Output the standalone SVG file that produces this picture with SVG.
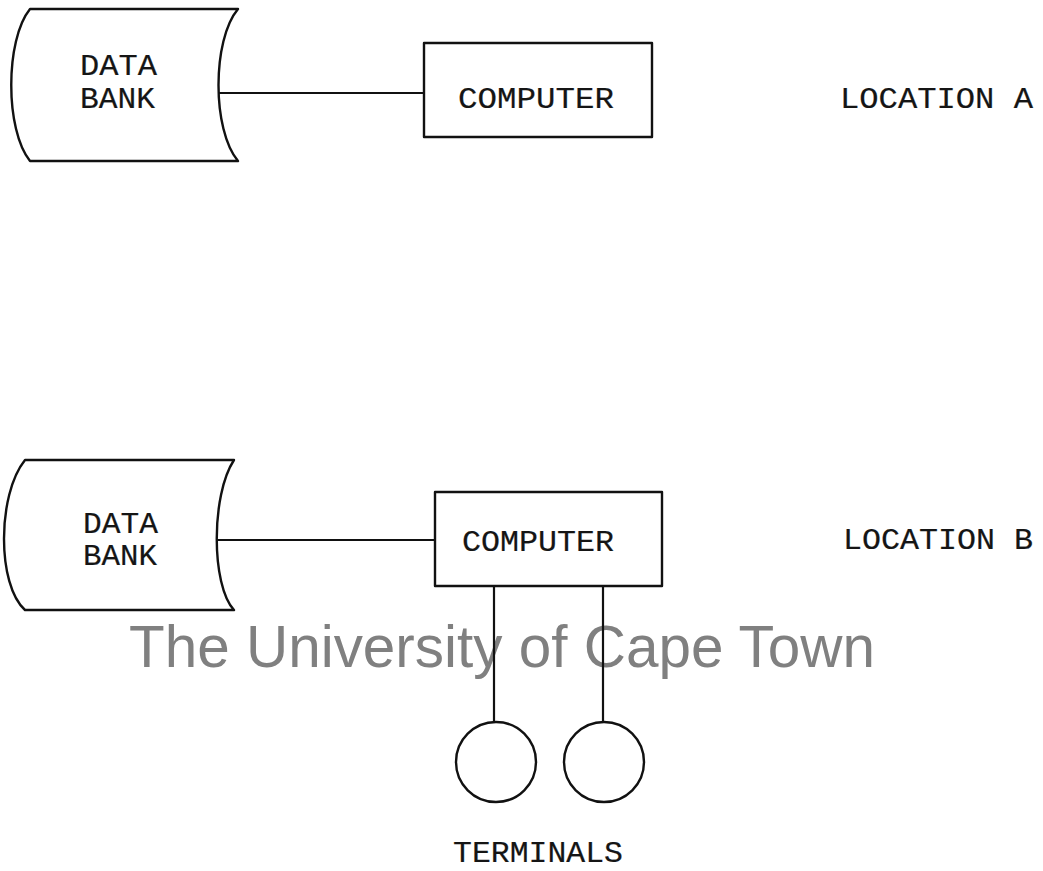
<svg xmlns="http://www.w3.org/2000/svg" width="1043" height="871" viewBox="0 0 1043 871">
<style>
.shape{fill:none;stroke:#111;stroke-width:2.4;stroke-linejoin:round}
.conn{stroke:#111;stroke-width:2.2;fill:none}
.t{font-family:"Liberation Mono","DejaVu Sans Mono",monospace;font-size:30px;fill:#151515;stroke:#151515;stroke-width:0.2}
.wm{font-family:"Liberation Sans",Arial,sans-serif;font-size:58.5px;fill:#808080}
</style>
<rect width="1043" height="871" fill="#ffffff"/>
<text class="wm" x="129" y="667" textLength="746" lengthAdjust="spacingAndGlyphs">The University of Cape Town</text>
<g id="databank-a">
<path class="shape" d="M30,9 L238,9 C212,40 212,130 238,161 L30,161 C5,130 5,40 30,9 Z"/>
<text class="t" x="80" y="75" textLength="77" lengthAdjust="spacingAndGlyphs">DATA</text>
<text class="t" x="80" y="108" textLength="75" lengthAdjust="spacingAndGlyphs">BANK</text>
</g>
<g id="computer-a">
<rect class="shape" x="424" y="43" width="228" height="94"/>
<text class="t" x="458" y="108" textLength="156" lengthAdjust="spacingAndGlyphs">COMPUTER</text>
</g>
<g id="location-a">
<text class="t" x="840" y="108" textLength="193" lengthAdjust="spacingAndGlyphs">LOCATION A</text>
</g>
<g id="databank-b">
<path class="shape" d="M25,460 L234,460 C211,495 211,585 234,610 L25,610 C-3,585 -3,495 25,460 Z"/>
<text class="t" x="83" y="533" textLength="75" lengthAdjust="spacingAndGlyphs">DATA</text>
<text class="t" x="83" y="565" textLength="74" lengthAdjust="spacingAndGlyphs">BANK</text>
</g>
<g id="computer-b">
<rect class="shape" x="435" y="492" width="227" height="94"/>
<text class="t" x="462" y="551" textLength="152" lengthAdjust="spacingAndGlyphs">COMPUTER</text>
</g>
<g id="location-b">
<text class="t" x="843" y="549" textLength="190" lengthAdjust="spacingAndGlyphs">LOCATION B</text>
</g>
<g id="terminal-1">
<circle class="shape" cx="496" cy="762" r="40"/>
</g>
<g id="terminal-2">
<circle class="shape" cx="604" cy="762" r="40"/>
</g>
<g id="terminals-label">
<text class="t" x="453" y="862" textLength="170" lengthAdjust="spacingAndGlyphs">TERMINALS</text>
</g>
<g id="connectors">
<line class="conn" x1="219" y1="93" x2="424" y2="93"/>
<line class="conn" x1="217" y1="540" x2="435" y2="540"/>
<line class="conn" x1="494" y1="586" x2="494" y2="722"/>
<line class="conn" x1="603" y1="586" x2="603" y2="722"/>
</g>
</svg>
